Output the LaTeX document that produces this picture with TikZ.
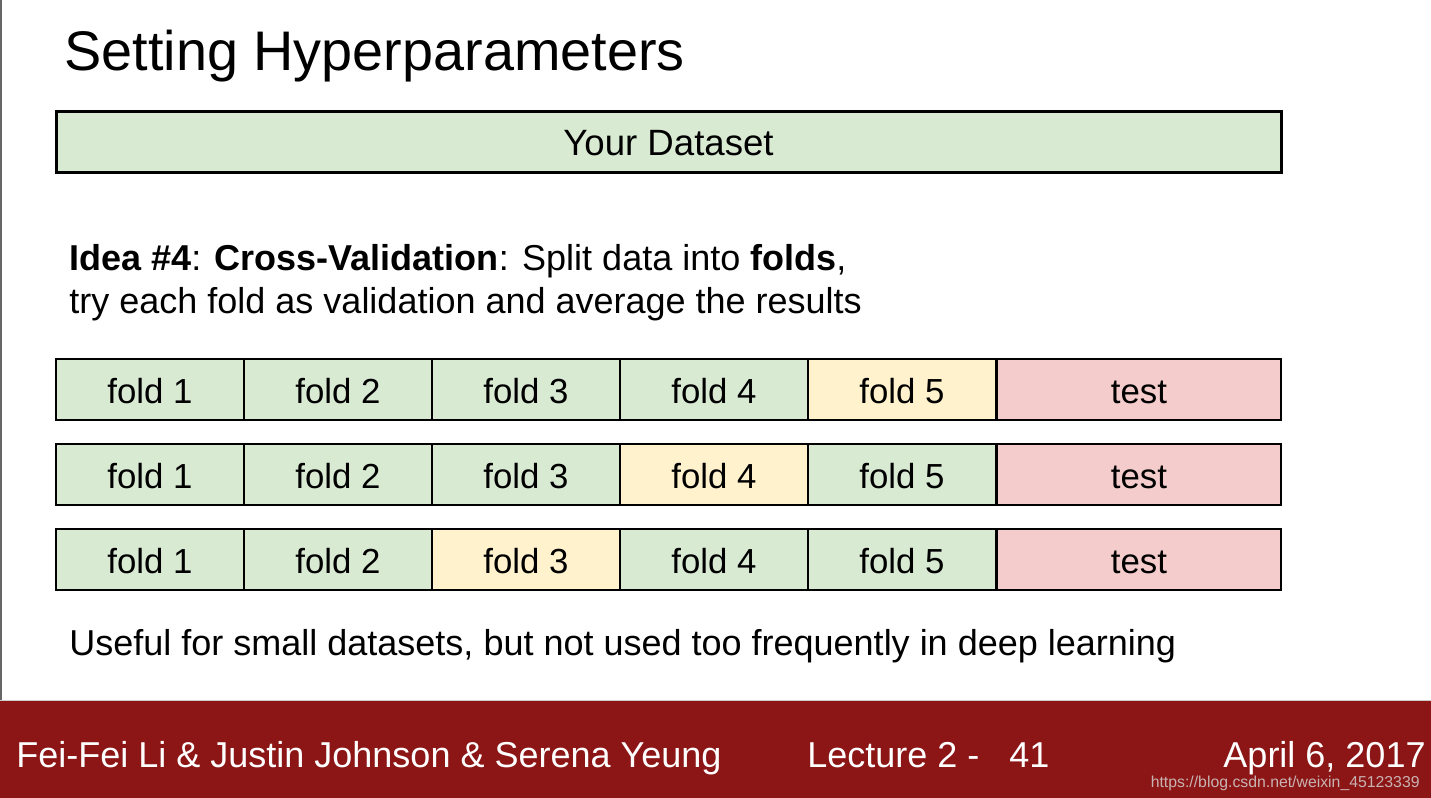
\documentclass[tikz,border=0pt]{standalone}
\usepackage{fontspec}
\setmainfont{Liberation Sans}
\definecolor{trainCol}{HTML}{D9EAD3}
\definecolor{valCol}{HTML}{FFF2CC}
\definecolor{testCol}{HTML}{F4CCCC}
\definecolor{bandCol}{HTML}{8C1616}
\definecolor{markCol}{HTML}{C9B2B2}
\begin{document}
\begin{tikzpicture}[x=0.5pt,y=-0.5pt,
    box/.style={draw=black,line width=1.2pt,inner sep=0pt,minimum height=30.5pt,
        text height=13.5pt,text depth=0pt,font=\fontsize{17.4}{20}\selectfont},
    txt/.style={anchor=base west,inner sep=0pt,font=\fontsize{18}{21}\selectfont}]
    \useasboundingbox (0,0) rectangle (1431,798);
    \fill[gray!80!black] (0,0) rectangle (2,700);
    % title and whole dataset
    \node[anchor=base west,inner sep=0pt,font=\fontsize{27.9}{32}\selectfont] (title) at (64,70) {Setting Hyperparameters};
    \node[box,fill=trainCol,line width=1.5pt,minimum width=612.5pt,font=\fontsize{18.3}{21}\selectfont] (data) at (668.5,141.5) {Your Dataset};
    \node[txt] (idea) at (69,270) {\textbf{Idea \#4}: \textbf{Cross-Validation}: Split data into \textbf{folds},};
    \node[txt] (idea2) at (69,313) {try each fold as validation and average the results};
    % three splits, validation fold moves left
    \foreach \r/\v in {1/5,2/4,3/3}
    {
    \def\rowY{\fpeval{389.5+85*(\r-1)}}
    \foreach \k in {1,...,5}
    {
    \ifnum\k=\v\def\fcol{valCol}\else\def\fcol{trainCol}\fi
    \node[box,fill=\fcol,minimum width=94pt] (f\r-\k) at ({150+188*(\k-1)},\rowY) {fold \k};
    }
    \node[box,fill=testCol,minimum width=142pt] (test\r) at (1139,\rowY) {test};
    }
    \node[txt] (note) at (69,655) {Useful for small datasets, but not used too frequently in deep learning};
    % footer band
    \fill[bandCol] (0,701) rectangle (1431,798);
    \draw[gray!40,line width=0.5pt] (0,700.5) -- (1431,700.5);
    \node[txt,text=white] (names) at (16,767) {Fei-Fei Li \& Justin Johnson \& Serena Yeung};
    \node[txt,text=white] (lect) at (807,767) {Lecture 2 -~~~41};
    \node[txt,anchor=base east,text=white] (date) at (1426,767) {April 6, 2017};
    \node[anchor=base east,inner sep=0pt,text=markCol,font=\fontsize{7.9}{9}\selectfont] (mark) at (1420,787) {https://blog.csdn.net/weixin\_45123339};
\end{tikzpicture}
\end{document}
